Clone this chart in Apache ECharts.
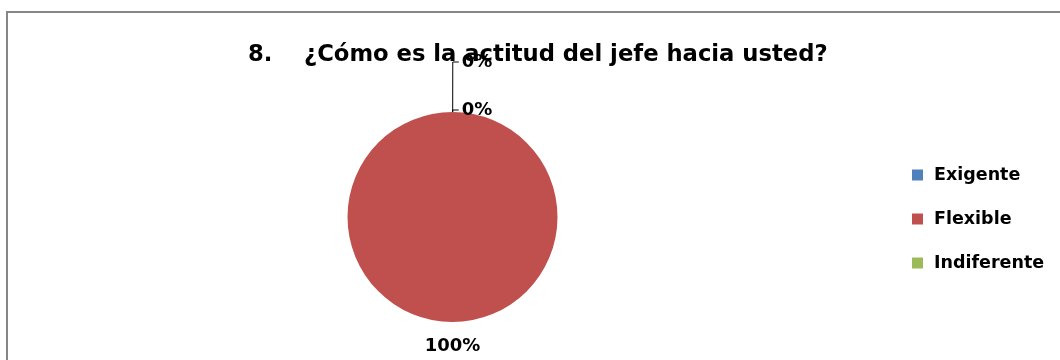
<!DOCTYPE html>
<html>
<head>
<meta charset="utf-8">
<script src="https://cdn.jsdelivr.net/npm/echarts@6/dist/echarts.min.js"></script>
<style>
  html, body { margin: 0; padding: 0; background: #fff; }
  #main { width: 1060px; height: 360px; }
</style>
</head>
<body>
<div id="main"></div>
<script>
// datos de la encuesta
var categorias = ['Exigente', 'Flexible', 'Indiferente'];
var valores = [0, 1, 0];
var colores = ['#4F81BD', '#C0504D', '#9BBB59'];
var titulo = '8.    ¿Cómo es la actitud del jefe hacia usted?';

// largo de la línea guía por categoría (las de 0% quedan arriba)
var largoLinea = [2, 24, 50];

var echart = echarts.init(document.getElementById('main'));

var datos = categorias.map(function (nombre, i) {
    var item = {
        name: nombre,
        value: valores[i],
        itemStyle: { color: colores[i] },
        labelLine: { length: largoLinea[i], length2: 6 }
    };
    if (i === 1) {
        item.labelLine = { show: false, length: largoLinea[i], length2: 0 };
    }
    return item;
});

var option = {
    backgroundColor: '#fff',
    animation: false,
    title: {
        text: titulo,
        left: 248,
        top: 44,
        padding: 0,
        textStyle: {
            fontFamily: 'DejaVu Sans',
            fontWeight: 'bold',
            fontSize: 22.7,
            color: '#000'
        }
    },
    legend: {
        orient: 'vertical',
        left: 912,
        top: 166,
        padding: 0,
        itemWidth: 11,
        itemHeight: 11,
        itemGap: 26,
        icon: 'rect',
        data: categorias,
        textStyle: {
            fontFamily: 'DejaVu Sans',
            fontWeight: 'bold',
            fontSize: 17.5,
            color: '#000',
            padding: [0, 0, 0, 6]
        }
    },
    graphic: [{
        type: 'rect',
        shape: { x: 7, y: 12, width: 1100, height: 400 },
        style: { fill: 'none', stroke: '#868686', lineWidth: 2 },
        silent: true
    }],
    series: [{
        name: 'Actitud',
        type: 'pie',
        center: [452.5, 217],
        radius: 105,
        startAngle: 89.9,
        avoidLabelOverlap: false,
        label: {
            show: true,
            position: 'outside',
            distanceToLabelLine: 3,
            fontFamily: 'DejaVu Sans',
            fontWeight: 'bold',
            fontSize: 18,
            color: '#000',
            formatter: function (p) {
                return Math.round(p.percent) + '%';
            }
        },
        labelLine: {
            show: true,
            lineStyle: { color: '#000', width: 1 }
        },
        labelLayout: function (p) {
            // la etiqueta del 100% va centrada bajo el círculo
            if (p.dataIndex === 1) {
                return { x: p.rect.x + p.rect.width / 2, align: 'center' };
            }
            return {};
        },
        emphasis: { disabled: true },
        data: datos
    }]
};

echart.setOption(option);
</script>
</body>
</html>
